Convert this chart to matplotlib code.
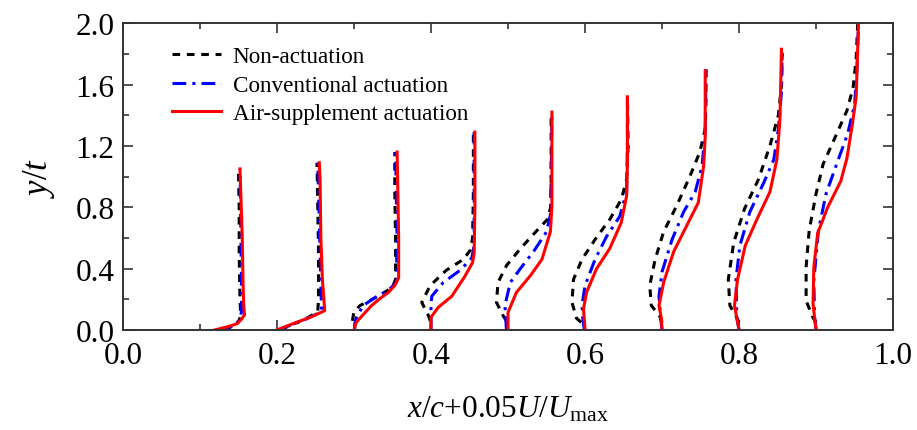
import numpy as np
import matplotlib.pyplot as plt

plt.rcParams['font.family'] = 'Liberation Serif'
plt.rcParams['mathtext.fontset'] = 'custom'
plt.rcParams['mathtext.rm'] = 'Liberation Serif'
plt.rcParams['mathtext.it'] = 'Liberation Serif:italic'

# streamwise stations x/c
stations = [0.1, 0.2, 0.3, 0.4, 0.5, 0.6, 0.7, 0.8, 0.9]

# Non-actuation: y/t and 0.05U/Umax for every station
noact_y = [
    [0.0, 0.03, 0.06, 0.10, 0.2, 0.5, 0.8, 1.05],
    [0.0, 0.04, 0.08, 0.12, 0.2, 0.5, 0.8, 1.09],
    [0.06, 0.12, 0.16, 0.19, 0.23, 0.28, 0.33, 0.6, 0.9, 1.16],
    [0.06, 0.09, 0.18, 0.29, 0.39, 0.46, 0.52, 0.6, 0.9, 1.29],
    [0.06, 0.09, 0.18, 0.31, 0.42, 0.53, 0.64, 0.72, 0.81, 1.0, 1.42],
    [0.05, 0.076, 0.18, 0.33, 0.46, 0.59, 0.72, 0.85, 0.98, 1.2, 1.52],
    [0.05, 0.09, 0.16, 0.29, 0.46, 0.64, 0.81, 1.0, 1.16, 1.31, 1.5, 1.70],
    [0.05, 0.09, 0.16, 0.33, 0.57, 0.79, 0.98, 1.2, 1.4, 1.59, 1.84],
    [0.05, 0.08, 0.19, 0.41, 0.65, 0.89, 1.08, 1.26, 1.43, 1.58, 1.77, 2.0],
]
noact_u = [
    [0.031, 0.046, 0.051, 0.053, 0.052, 0.051, 0.051, 0.050],
    [0.004, 0.022, 0.040, 0.053, 0.054, 0.054, 0.053, 0.052],
    [-0.002, 0.0, 0.008, 0.02, 0.035, 0.05, 0.054, 0.054, 0.053, 0.053],
    [-0.001, -0.003, -0.012, -0.001, 0.02, 0.042, 0.051, 0.054, 0.055, 0.055],
    [-0.002, -0.006, -0.015, -0.013, -0.002, 0.016, 0.036, 0.051, 0.056, 0.056, 0.056],
    [-0.005, -0.011, -0.017, -0.015, -0.004, 0.013, 0.032, 0.047, 0.054, 0.056, 0.055],
    [0.0, -0.003, -0.014, -0.016, -0.009, 0.002, 0.019, 0.036, 0.049, 0.056, 0.057, 0.057],
    [0.0, -0.004, -0.012, -0.014, -0.007, 0.007, 0.025, 0.04, 0.051, 0.055, 0.056],
    [0.0, -0.004, -0.013, -0.013, -0.009, 0.0, 0.009, 0.025, 0.04, 0.048, 0.052, 0.054],
]

# Conventional actuation
conv_y = [
    [0.0, 0.03, 0.07, 0.12, 0.3, 0.7, 1.05],
    [0.0, 0.05, 0.10, 0.13, 0.3, 0.7, 1.09],
    [0.0, 0.04, 0.08, 0.16, 0.22, 0.26, 0.31, 0.6, 1.16],
    [0.0, 0.09, 0.16, 0.22, 0.31, 0.39, 0.47, 0.55, 0.9, 1.29],
    [0.0, 0.08, 0.16, 0.31, 0.4, 0.51, 0.64, 0.75, 1.0, 1.42],
    [0.0, 0.08, 0.16, 0.29, 0.46, 0.61, 0.74, 0.9, 1.2, 1.52],
    [0.0, 0.08, 0.22, 0.38, 0.59, 0.77, 0.9, 1.07, 1.3, 1.70],
    [0.0, 0.08, 0.33, 0.55, 0.77, 0.96, 1.11, 1.31, 1.55, 1.84],
    [0.0, 0.08, 0.32, 0.65, 0.89, 1.1, 1.28, 1.47, 1.7, 2.0],
]
conv_u = [
    [0.025, 0.045, 0.052, 0.054, 0.054, 0.053, 0.052],
    [0.001, 0.028, 0.050, 0.058, 0.057, 0.055, 0.053],
    [0.001, 0.001, 0.003, 0.012, 0.03, 0.045, 0.055, 0.056, 0.054],
    [0.0, 0.0, 0.0, 0.001, 0.016, 0.038, 0.053, 0.056, 0.056, 0.056],
    [-0.002, -0.003, -0.004, 0.003, 0.016, 0.033, 0.05, 0.055, 0.056, 0.057],
    [-0.001, -0.003, -0.004, 0.0, 0.013, 0.028, 0.045, 0.054, 0.055, 0.055],
    [0.0, -0.002, -0.004, 0.0, 0.013, 0.028, 0.043, 0.052, 0.056, 0.057],
    [0.0, -0.003, -0.004, 0.001, 0.014, 0.032, 0.045, 0.051, 0.055, 0.056],
    [0.0, -0.002, -0.003, 0.003, 0.013, 0.028, 0.041, 0.05, 0.053, 0.055],
]

# Air-supplement actuation
air_y = [
    [0.0, 0.02, 0.04, 0.07, 0.10, 0.15, 0.3, 0.6, 0.9, 1.05],
    [0.0, 0.04, 0.08, 0.126, 0.2, 0.33, 0.6, 0.98, 1.09],
    [0.0, 0.05, 0.10, 0.16, 0.21, 0.246, 0.29, 0.34, 0.6, 0.9, 1.16],
    [0.0, 0.083, 0.148, 0.22, 0.35, 0.44, 0.5, 0.8, 1.29],
    [0.0, 0.115, 0.246, 0.354, 0.46, 0.64, 0.81, 1.1, 1.42],
    [0.0, 0.137, 0.246, 0.4, 0.53, 0.7, 0.875, 1.09, 1.52],
    [0.0, 0.08, 0.16, 0.31, 0.51, 0.68, 0.83, 1.07, 1.26, 1.69],
    [0.0, 0.08, 0.16, 0.33, 0.55, 0.72, 0.9, 1.11, 1.37, 1.83],
    [0.0, 0.08, 0.17, 0.41, 0.63, 0.8, 0.97, 1.12, 1.34, 1.52, 1.84, 2.0],
]
air_u = [
    [0.019, 0.035, 0.048, 0.054, 0.058, 0.057, 0.056, 0.055, 0.053, 0.052],
    [0.0, 0.02, 0.042, 0.062, 0.061, 0.059, 0.057, 0.056, 0.055],
    [0.0, 0.003, 0.012, 0.023, 0.035, 0.045, 0.053, 0.058, 0.058, 0.057, 0.056],
    [0.0, 0.0, 0.0095, 0.027, 0.044, 0.054, 0.056, 0.057, 0.057],
    [0.0, 0.0, 0.011, 0.029, 0.044, 0.055, 0.057, 0.057, 0.057],
    [0.0, -0.002, 0.002, 0.015, 0.032, 0.047, 0.054, 0.055, 0.055],
    [0.0, -0.001, -0.004, 0.002, 0.015, 0.032, 0.047, 0.054, 0.056, 0.056],
    [0.0, -0.003, -0.006, -0.002, 0.008, 0.023, 0.04, 0.049, 0.053, 0.055],
    [0.0, -0.002, -0.004, -0.003, 0.002, 0.015, 0.032, 0.04, 0.047, 0.052, 0.054, 0.055],
]

series = [
    ("Non-actuation", noact_y, noact_u, "black", (0, (2.5, 2.2))),
    ("Conventional actuation", conv_y, conv_u, "#0000ff", (0, (4.5, 2, 1, 2))),
    ("Air-supplement actuation", air_y, air_u, "#ff0000", "-"),
]

fig = plt.figure(figsize=(9.17, 4.31), dpi=100)
ax = fig.add_axes([0.134, 0.232, 0.840, 0.712])

for name, ys, us, col, ls in series:
    for i, x0 in enumerate(stations):
        xx = x0 + np.array(us[i])
        ax.plot(xx, ys[i], color=col, ls=ls, lw=2.2,
                label=name if i == 0 else None)

ax.set_xlim(0, 1.0)
ax.set_ylim(0, 2.0)
ax.set_xticks(np.arange(0, 1.01, 0.2))
ax.set_xticks(np.arange(0.1, 1.0, 0.2), minor=True)
ax.set_yticks(np.arange(0, 2.01, 0.4))
ax.set_yticks(np.arange(0.2, 2.0, 0.4), minor=True)
ax.xaxis.set_major_formatter(plt.FormatStrFormatter('%.1f'))
ax.yaxis.set_major_formatter(plt.FormatStrFormatter('%.1f'))
ax.tick_params(which='both', direction='in', top=True, right=True,
               labelsize=22.5, width=1.2, color='#333333')
ax.tick_params(axis='x', which='major', pad=8)
ax.tick_params(axis='y', which='major', pad=6)
ax.tick_params(which='major', length=7)
ax.tick_params(which='minor', length=4)
for s in ax.spines.values():
    s.set_linewidth(1.4)
    s.set_color('#333333')

ax.set_xlabel(r'$x/c$+0.05$U/U_{\rm max}$', fontsize=22.5, labelpad=17)
ax.set_ylabel(r'$y/t$', fontsize=25, labelpad=13)

ax.legend(loc='upper left', bbox_to_anchor=(0.052, 0.955), frameon=False,
          fontsize=16.7, handlelength=2.1, handletextpad=0.5,
          labelspacing=0.3, borderaxespad=0)

fig.savefig('out.png', dpi=100)
